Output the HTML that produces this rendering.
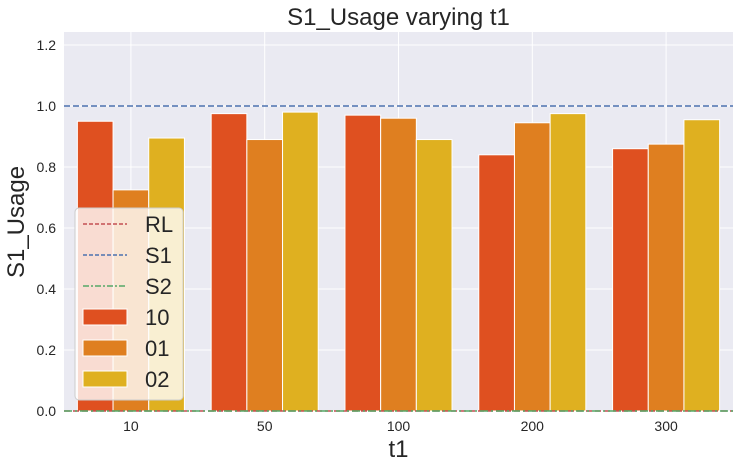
<!DOCTYPE html>
<html><head><meta charset="utf-8"><style>
body{margin:0;background:#fff;font-family:"Liberation Sans",sans-serif}
svg text{font-family:"Liberation Sans",sans-serif;fill:#262626}
</style></head><body>
<svg id="chart" width="740" height="469" xmlns="http://www.w3.org/2000/svg"></svg>
<script>
const categories = ["10","50","100","200","300"];
const seriesNames = ["10","01","02"];
const s10 = [0.95, 0.975, 0.97, 0.84, 0.86];
const s01 = [0.725, 0.89, 0.96, 0.945, 0.875];
const s02 = [0.895, 0.98, 0.89, 0.975, 0.955];
const yTicks = ["0.0","0.2","0.4","0.6","0.8","1.0","1.2"];
const rlValue = 0, s1Value = 1.0, s2Value = 0;

const colors = ["#df5020","#df7f20","#dfb020"];
const L=64,R=733,T=32,B=411, yMax=(B-T)/305;
const NS="http://www.w3.org/2000/svg";
const svg=document.getElementById('chart');
function y(v){return B-(v/yMax)*(B-T);}
const step=(R-L)/categories.length;
function xc(i){return L+step*(i+0.5);}
function mk(tag,attrs,parent){const e=document.createElementNS(NS,tag);for(const k in attrs)e.setAttribute(k,attrs[k]);(parent||svg).appendChild(e);return e;}

const bg=mk('rect',{x:L,y:T,width:R-L,height:B-T,fill:'#eaeaf2'});


yTicks.forEach(t=>{const v=parseFloat(t);
 const g=mk('line',{x1:L,x2:R,y1:y(v),y2:y(v),stroke:'#fff','stroke-width':1});
 
 
 const tx=mk('text',{x:L-8,y:y(v)+5,'text-anchor':'end','font-size':14});tx.textContent=t;
 
 
});
categories.forEach((c,i)=>{
 const g=mk('line',{x1:xc(i),x2:xc(i),y1:T,y2:B,stroke:'#fff','stroke-width':1});
 
 
 const tx=mk('text',{x:xc(i),y:B+20,'text-anchor':'middle','font-size':14});tx.textContent=c;
 
 
});
const series=[s10,s01,s02];
const bw=step*0.8/3;
series.forEach((s,j)=>s.forEach((v,i)=>{
 const x0=xc(i)-step*0.4+j*bw;
 const r=mk('rect',{x:x0,y:y(v),width:bw,height:B-y(v),fill:colors[j],stroke:'#fff','stroke-width':1});
 
 
}));
const l1=mk('line',{x1:L,x2:R,y1:y(rlValue),y2:y(rlValue),stroke:'#c44e52','stroke-width':1.5,'stroke-dasharray':'6 3'});


const l2=mk('line',{x1:L,x2:R,y1:y(s1Value),y2:y(s1Value),stroke:'#4c72b0','stroke-width':1.5,'stroke-dasharray':'6 3'});


const l3=mk('line',{x1:L,x2:R,y1:y(s2Value),y2:y(s2Value),stroke:'#55a868','stroke-width':1.5,'stroke-dasharray':'8 3 2 3'});



const title=mk('text',{x:(L+R)/2,y:25,'text-anchor':'middle','font-size':24});title.textContent='S1_Usage varying t1';


const xt=mk('text',{x:(L+R)/2,y:457,'text-anchor':'middle','font-size':24});xt.textContent='t1';


const yt=mk('text',{x:0,y:0,'text-anchor':'middle','font-size':24,transform:'translate(24,222) rotate(-90)'});yt.textContent='S1_Usage';



const lg=mk('g',{});


mk('rect',{x:75,y:208,width:108,height:192,rx:4,fill:'rgba(255,255,255,0.8)',stroke:'#ccc','stroke-width':1},lg);
const items=[['RL','line','#c44e52','4 2'],['S1','line','#4c72b0','4 2'],['S2','line','#55a868','6 2 2 2'],['10','box',colors[0]],['01','box',colors[1]],['02','box',colors[2]]];
items.forEach((it,k)=>{const cy=224+k*31;
 const e=mk('g',{},lg);
 
 
 if(it[1]==='line')mk('line',{x1:83,x2:127,y1:cy,y2:cy,stroke:it[2],'stroke-width':1.5,'stroke-dasharray':it[3]},e);
 else mk('rect',{x:83,y:cy-8,width:44,height:16,fill:it[2],stroke:'#fff','stroke-width':1},e);
 const t=mk('text',{x:145,y:cy+8,'font-size':22},e);t.textContent=it[0];
});
</script>
</body></html>
